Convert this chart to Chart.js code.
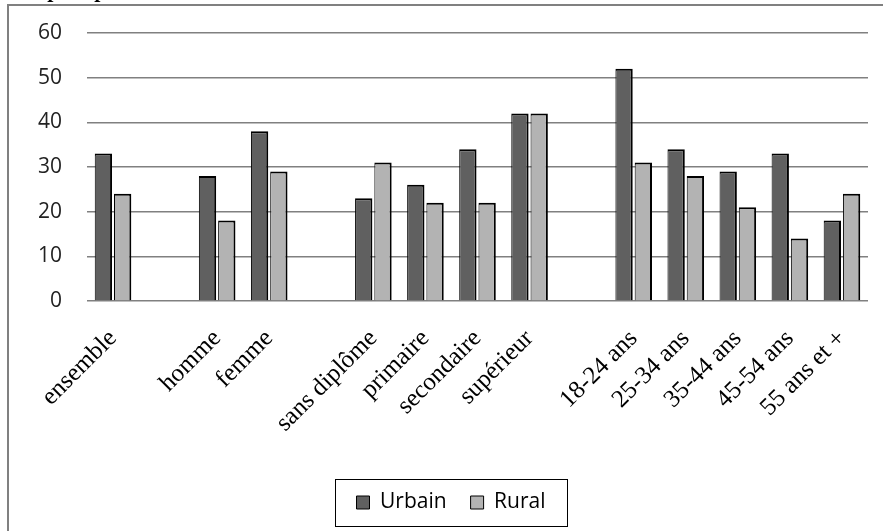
<!DOCTYPE html>
<html>
<head>
<meta charset="utf-8">
<script src="https://cdn.jsdelivr.net/npm/chart.js@4/dist/chart.umd.min.js"></script>
<style>
  html, body { margin: 0; padding: 0; background: #fff; }
  #wrap { position: relative; width: 883px; height: 531px; }
</style>
</head>
<body>
<div id="wrap"><canvas id="c" width="883" height="531"></canvas></div>
<script>
// Categories (empty strings are spacer slots between the groups)
const categories = [
  'ensemble', '',
  'homme', 'femme', '',
  'sans diplôme', 'primaire', 'secondaire', 'supérieur', '',
  '18-24 ans', '25-34 ans', '35-44 ans', '45-54 ans', '55 ans et +'
];
const urbain = [33, null, 28, 38, null, 23, 26, 34, 42, null, 52, 34, 29, 33, 18];
const rural  = [24, null, 18, 29, null, 31, 22, 22, 42, null, 31, 28, 21, 14, 24];
const yTicks = [0, 10, 20, 30, 40, 50, 60];

const sansFont = '"Open Sans", "DejaVu Sans", sans-serif';
const serifFont = '"Liberation Serif", "DejaVu Serif", serif';

// Page frame and the clipped heading fragments at the very top
const framePlugin = {
  id: 'frame',
  beforeDraw(chart) {
    const ctx = chart.ctx;
    ctx.save();
    ctx.fillStyle = '#fff';
    ctx.fillRect(0, 0, chart.width, chart.height);
    ctx.fillStyle = '#808080';
    ctx.fillRect(7, 4, chart.width - 7, 2);
    ctx.fillRect(7, 4, 2, chart.height - 4);
    ctx.fillStyle = '#000';
    ctx.font = 'bold italic 22px ' + serifFont;
    ctx.textBaseline = 'alphabetic';
    ctx.fillText('p', 49, -3);
    ctx.fillText('p', 96, -3);
    ctx.restore();
  }
};

// Legend sits a little right of centre, inside a thin black box
const LEGEND_SHIFT = 13;
const legendBoxPlugin = {
  id: 'legendBox',
  afterLayout(chart) {
    const lg = chart.legend;
    if (!lg) return;
    lg.left += LEGEND_SHIFT;
    lg.right += LEGEND_SHIFT;
    (lg.legendHitBoxes || []).forEach(h => { h.left += LEGEND_SHIFT; });
  },
  afterDraw(chart) {
    const boxes = chart.legend && chart.legend.legendHitBoxes;
    if (!boxes || !boxes.length) return;
    let l = Infinity, r = -Infinity, t = Infinity, b = -Infinity;
    boxes.forEach(h => { l = Math.min(l, h.left); r = Math.max(r, h.left + h.width);
                         t = Math.min(t, h.top); b = Math.max(b, h.top + h.height); });
    const cx = (l + r) / 2, cy = (t + b) / 2;
    const w = 232, h = 47;
    const ctx = chart.ctx;
    ctx.save();
    ctx.strokeStyle = '#000';
    ctx.lineWidth = 1;
    ctx.strokeRect(Math.round(cx - w / 2) + 0.5, Math.round(cy - h / 2) + 0.5, w, h);
    ctx.restore();
  }
};

new Chart(document.getElementById('c'), {
  type: 'bar',
  data: {
    labels: categories,
    datasets: [
      { label: 'Urbain', data: urbain, backgroundColor: '#606060', borderColor: '#000',
        borderWidth: { top: 2, right: 2, left: 1, bottom: 0 }, borderSkipped: false },
      { label: 'Rural', data: rural, backgroundColor: '#b3b3b3', borderColor: '#000',
        borderWidth: { top: 2, right: 2, left: 1, bottom: 0 }, borderSkipped: false }
    ]
  },
  options: {
    responsive: false,
    animation: false,
    devicePixelRatio: 1,
    layout: { padding: { top: 33, left: 8, right: 15, bottom: 8 } },
    categoryPercentage: 0.74,
    barPercentage: 0.9,
    plugins: {
      title: { display: false },
      tooltip: { enabled: false },
      legend: {
        position: 'bottom',
        labels: {
          font: { family: sansFont, size: 21 },
          color: '#000',
          boxWidth: 13,
          boxHeight: 13,
          padding: 24,
          generateLabels(chart) {
            return chart.data.datasets.map((ds, i) => ({
              text: ds.label, fillStyle: ds.backgroundColor, strokeStyle: '#000',
              lineWidth: 1, hidden: false, datasetIndex: i, fontColor: '#000'
            }));
          }
        }
      }
    },
    scales: {
      x: {
        grid: { display: false, drawTicks: false },
        border: { display: false },
        ticks: {
          autoSkip: false, minRotation: 45, maxRotation: 45, padding: 23,
          font: { family: serifFont, size: 25 }, color: '#000'
        },
        afterFit(scale) {
          scale.height = 167;
          scale.paddingLeft = 0;
          scale.paddingRight = 0;
        }
      },
      y: {
        min: 0, max: 60,
        afterBuildTicks(scale) { scale.ticks = yTicks.map(v => ({ value: v })); },
        grid: { color: '#808080', lineWidth: 1.5, drawTicks: false },
        border: { display: false },
        ticks: {
          padding: 25,
          font: { family: sansFont, size: 21 }, color: '#222'
        },
        afterFit(scale) {
          scale.width = 79;
          scale.paddingTop = 0;
          scale.paddingBottom = 0;
        }
      }
    }
  },
  plugins: [framePlugin, legendBoxPlugin]
});
</script>
</body>
</html>
